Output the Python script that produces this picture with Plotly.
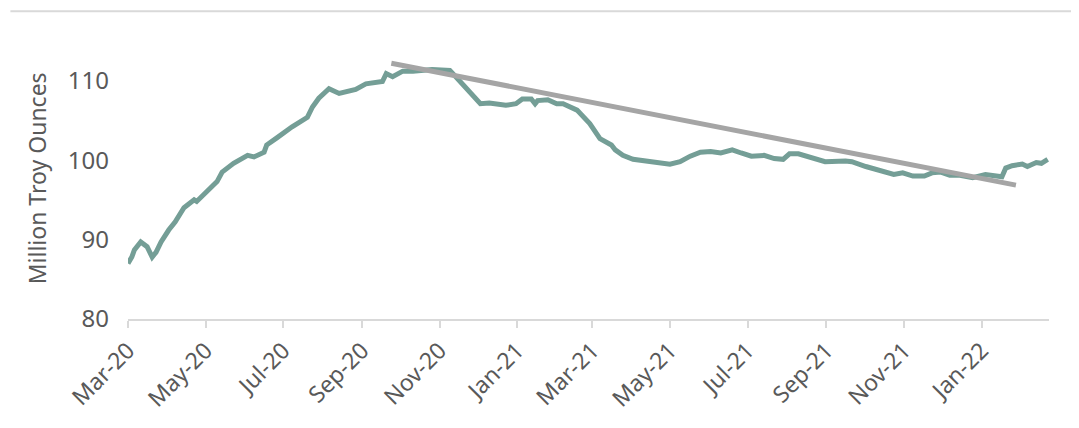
import plotly.graph_objects as go

dates = [
    "2020-03-01", "2020-03-04", "2020-03-06", "2020-03-11", "2020-03-16", "2020-03-20",
    "2020-03-23", "2020-03-27", "2020-04-02", "2020-04-07", "2020-04-14", "2020-04-22",
    "2020-04-24", "2020-04-28", "2020-05-03", "2020-05-10", "2020-05-14", "2020-05-23",
    "2020-06-03", "2020-06-08", "2020-06-16", "2020-06-18", "2020-06-26", "2020-07-08",
    "2020-07-20", "2020-07-24", "2020-07-29", "2020-08-06", "2020-08-14", "2020-08-27",
    "2020-09-04", "2020-09-12", "2020-09-17", "2020-09-20", "2020-09-25", "2020-10-03",
    "2020-10-11", "2020-10-26", "2020-11-09", "2020-11-16", "2020-11-24", "2020-12-03",
    "2020-12-10", "2020-12-23", "2020-12-31", "2021-01-05", "2021-01-12", "2021-01-15",
    "2021-01-17", "2021-01-25", "2021-02-01", "2021-02-06", "2021-02-17", "2021-02-27",
    "2021-03-07", "2021-03-16", "2021-03-19", "2021-03-25", "2021-04-02", "2021-04-15",
    "2021-05-01", "2021-05-09", "2021-05-17", "2021-05-25", "2021-06-02", "2021-06-10",
    "2021-06-19", "2021-06-26", "2021-07-04", "2021-07-14", "2021-07-22", "2021-07-29",
    "2021-08-03", "2021-08-10", "2021-08-20", "2021-08-31", "2021-09-16", "2021-09-21",
    "2021-10-02", "2021-10-15", "2021-10-24", "2021-10-31", "2021-11-08", "2021-11-17",
    "2021-11-23", "2021-11-30", "2021-12-07", "2021-12-15", "2021-12-25", "2022-01-04",
    "2022-01-17", "2022-01-20", "2022-01-25", "2022-02-02", "2022-02-06", "2022-02-13",
    "2022-02-17", "2022-02-22",
]
holdings = [
    87.0, 87.8, 88.7, 89.7, 89.1, 87.8,
    88.4, 89.7, 91.2, 92.2, 94.0, 95.0,
    94.8, 95.4, 96.2, 97.3, 98.5, 99.6,
    100.6, 100.4, 101.0, 101.9, 102.8, 104.2,
    105.4, 106.7, 107.8, 109.0, 108.4, 108.9,
    109.6, 109.8, 109.9, 110.9, 110.5, 111.2,
    111.2, 111.4, 111.3, 110.1, 108.6, 107.1,
    107.2, 106.9, 107.1, 107.7, 107.7, 107.1,
    107.5, 107.6, 107.1, 107.1, 106.3, 104.6,
    102.7, 101.9, 101.3, 100.6, 100.1, 99.8,
    99.5, 99.8, 100.5, 101.0, 101.1, 100.9,
    101.3, 100.9, 100.5, 100.6, 100.2, 100.1,
    100.8, 100.8, 100.3, 99.8, 99.9, 99.8,
    99.2, 98.7, 98.2, 98.4, 98.0, 98.0,
    98.4, 98.5, 98.1, 98.1, 97.8, 98.2,
    97.9, 99.0, 99.3, 99.5, 99.2, 99.7,
    99.6, 100.1,
]

trend_dates = ["2020-09-24", "2022-01-28"]
trend_values = [112.2, 96.85]

tick_vals_y = [80, 90, 100, 110]

FONT = "Noto Sans"
TXT = "#595959"

fig = go.Figure()
fig.add_trace(go.Scatter(
    x=dates, y=holdings, mode="lines",
    line=dict(color="#749e96", width=5),
    showlegend=False, hoverinfo="skip",
))
fig.add_trace(go.Scatter(
    x=trend_dates, y=trend_values, mode="lines",
    line=dict(color="#a5a5a5", width=5),
    showlegend=False, hoverinfo="skip",
))

fig.update_layout(
    width=1071, height=420,
    margin=dict(l=120, r=30, t=33, b=109, autoexpand=False),
    paper_bgcolor="white", plot_bgcolor="white",
    font=dict(family=FONT, color=TXT, size=23),
    xaxis=dict(
        type="date",
        range=["2020-03-01", "2022-02-23"],
        tick0="2020-03-01", dtick="M2", tickformat="%b-%y",
        tickangle=-45,
        ticks="outside", ticklen=7, tickwidth=1.5, tickcolor="#d9d9d9",
        showline=True, linecolor="#d9d9d9", linewidth=2,
        showgrid=False, zeroline=False,
        tickfont=dict(family=FONT, size=23, color=TXT),
    ),
    yaxis=dict(
        range=[80, 115],
        tickvals=tick_vals_y,
        showgrid=False, zeroline=False, showline=False,
        ticks="", ticklabelstandoff=18,
        tickfont=dict(family=FONT, size=24, color=TXT),
    ),
    shapes=[dict(
        type="line", xref="paper", yref="paper",
        x0=-0.1277, x1=1.028, y0=1.1067, y1=1.1067,
        line=dict(color="#d9d9d9", width=2),
    )],
    annotations=[dict(
        text="Million Troy Ounces", xref="paper", yref="paper",
        x=-0.0985, y=0.507, xanchor="center", yanchor="middle",
        textangle=-90, showarrow=False,
        font=dict(family=FONT, size=23, color=TXT),
    )],
)

fig.write_html("out.html")
